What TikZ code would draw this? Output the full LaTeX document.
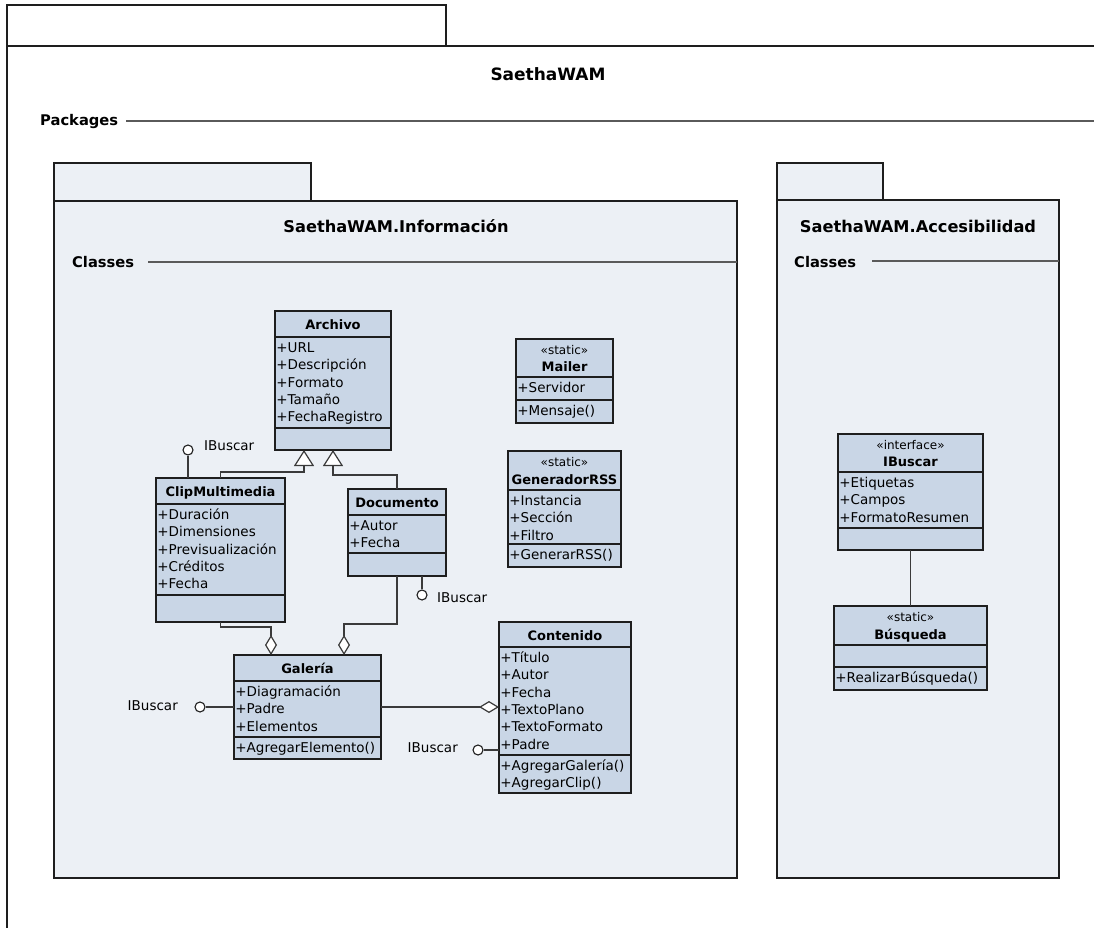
\documentclass[tikz,border=0pt]{standalone}
\usepackage{fontspec}
\setmainfont{DejaVu Sans}
\usetikzlibrary{arrows.meta,calc}

\definecolor{pkgfill}{HTML}{ECF0F5}
\definecolor{clsfill}{HTML}{C9D6E6}
\definecolor{edge}{HTML}{1E1E1E}
\definecolor{wire}{HTML}{3A3A3A}
\definecolor{rule}{HTML}{5A5A5A}

\tikzset{
  frame/.style={draw=edge, line width=1.4pt},
  pkgbox/.style={draw=edge, line width=1.4pt, fill=pkgfill},
  sepline/.style={draw=rule, line width=1.5pt},
  cls/.style={draw=edge, line width=1.3pt, fill=clsfill, inner sep=0pt, outer sep=0pt},
  divider/.style={draw=edge, line width=1.3pt},
  member/.style={font=\fontsize{13.5}{16}\selectfont, inner sep=0pt},
  clsname/.style={font=\bfseries\fontsize{13}{15}\selectfont, inner sep=0pt, anchor=base},
  stereo/.style={font=\fontsize{12}{14}\selectfont, inner sep=0pt, anchor=base},
  pkgtitle/.style={font=\bfseries\fontsize{16.2}{19}\selectfont, inner sep=0pt, anchor=base},
  maintitle/.style={font=\bfseries\fontsize{17}{20}\selectfont, inner sep=0pt, anchor=base},
  sectlabel/.style={font=\bfseries\fontsize{14.7}{17}\selectfont, inner sep=0pt, anchor=base west},
  conn/.style={draw=wire, line width=1.2pt},
  gen/.style={conn, -{Triangle[length=16pt, width=20pt, fill=white]}},
  agg/.style={conn, -{Diamond[length=20pt, width=12pt, fill=white]}},
  lolli/.style={circle, draw=edge, line width=1.1pt, fill=white, minimum size=10pt, inner sep=0pt},
  iface/.style={font=\fontsize{13.5}{16}\selectfont, inner sep=0pt},
}

% class box: name, x, y, width, height, header height, attribute compartment height
\newcommand\umlclass[7]{%
  \node[cls, minimum width=#4pt, minimum height=#5pt, anchor=north west] (#1) at (#2,#3) {};
  \coordinate (#1-h) at ($(#1.north west)+(0,#6)$);
  \coordinate (#1-a) at ($(#1.north west)+(0,#6+#7)$);
  \draw[divider] (#1-h) -- (#1-h -| #1.east);
  \draw[divider] (#1-a) -- (#1-a -| #1.east);
}
% compartment lines: node prefix, compartment top, list of members
\newcommand\umlmembers[3]{%
  \foreach \t [count=\i] in {#3} {%
    \node[member, anchor=base west] (#1\i) at ($(#2)+(1.2,{15.5+(\i-1)*17.3})$) {\t};
  }%
}

\begin{document}
\begin{tikzpicture}[x=1pt, y=-1pt]
\useasboundingbox (0,0) rectangle (1094,928);

% outer package
\draw[frame, fill=white] (7,5) rectangle (446,46);
\draw[frame] (7,928) -- (7,46) -- (1094,46);
\node[maintitle] (main-title) at (548,81) {SaethaWAM};
\node[sectlabel] (main-sect) at (40,126) {Packages};
\draw[sepline] (126,121) -- (1094,121);

% package SaethaWAM.Información
\draw[pkgbox] (54,163) rectangle (311,201);
\draw[pkgbox] (54,201) rectangle (737,878);
\node[pkgtitle] (info-title) at (396,232) {SaethaWAM.Información};
\node[sectlabel] (info-sect) at (72,267) {Classes};
\draw[sepline] (148,262) -- (737,262);

% package SaethaWAM.Accesibilidad
\draw[pkgbox] (777,163) rectangle (883,200);
\draw[pkgbox] (777,200) rectangle (1059,878);
\node[pkgtitle] (acc-title) at (918,232) {SaethaWAM.Accesibilidad};
\node[sectlabel] (acc-sect) at (794,267) {Classes};
\draw[sepline] (872,261) -- (1059,261);

% Archivo
\umlclass{archivo}{275}{311}{116}{139}{26}{91}
\node[clsname] (archivo-n) at ($(archivo.north)+(0,18)$) {Archivo};
\umlmembers{archivo-m}{archivo-h}{+URL,+Descripción,+Formato,+Tamaño,+FechaRegistro}

% ClipMultimedia
\umlclass{clip}{156}{478}{129}{144}{26}{91}
\node[clsname] (clip-n) at ($(clip.north)+(0,18)$) {ClipMultimedia};
\umlmembers{clip-m}{clip-h}{+Duración,+Dimensiones,+Previsualización,+Créditos,+Fecha}

% Documento
\umlclass{documento}{348}{489}{98}{87}{26}{38}
\node[clsname] (documento-n) at ($(documento.north)+(0,18)$) {Documento};
\umlmembers{documento-m}{documento-h}{+Autor,+Fecha}

% Galería
\umlclass{galeria}{234}{655}{147}{104}{26}{56}
\node[clsname] (galeria-n) at ($(galeria.north)+(0,18)$) {Galería};
\umlmembers{galeria-m}{galeria-h}{+Diagramación,+Padre,+Elementos}
\umlmembers{galeria-o}{galeria-a}{+AgregarElemento()}

% Contenido
\umlclass{contenido}{499}{622}{132}{171}{25}{108}
\node[clsname] (contenido-n) at ($(contenido.north)+(0,18)$) {Contenido};
\umlmembers{contenido-m}{contenido-h}{+Título,+Autor,+Fecha,+TextoPlano,+TextoFormato,+Padre}
\umlmembers{contenido-o}{contenido-a}{+AgregarGalería(),+AgregarClip()}

% Mailer
\umlclass{mailer}{516}{339}{97}{84}{38}{23}
\node[stereo] (mailer-s) at ($(mailer.north)+(0,15)$) {«static»};
\node[clsname] (mailer-n) at ($(mailer.north)+(0,32)$) {Mailer};
\umlmembers{mailer-m}{mailer-h}{+Servidor}
\umlmembers{mailer-o}{mailer-a}{+Mensaje()}

% GeneradorRSS
\umlclass{rss}{508}{451}{113}{116}{39}{54}
\node[stereo] (rss-s) at ($(rss.north)+(0,15)$) {«static»};
\node[clsname] (rss-n) at ($(rss.north)+(0,33)$) {GeneradorRSS};
\umlmembers{rss-m}{rss-h}{+Instancia,+Sección,+Filtro}
\umlmembers{rss-o}{rss-a}{+GenerarRSS()}

% IBuscar
\umlclass{ibuscar}{838}{434}{145}{116}{38}{56}
\node[stereo] (ibuscar-s) at ($(ibuscar.north)+(0,15)$) {«interface»};
\node[clsname] (ibuscar-n) at ($(ibuscar.north)+(0,32)$) {IBuscar};
\umlmembers{ibuscar-m}{ibuscar-h}{+Etiquetas,+Campos,+FormatoResumen}

% Búsqueda
\umlclass{busqueda}{834}{606}{153}{84}{39}{22}
\node[stereo] (busqueda-s) at ($(busqueda.north)+(0,15)$) {«static»};
\node[clsname] (busqueda-n) at ($(busqueda.north)+(0,33)$) {Búsqueda};
\umlmembers{busqueda-o}{busqueda-a}{+RealizarBúsqueda()}

% generalizations
\draw[gen] (clip.north) -- ++(0,-6) -| ([xshift=-29pt]archivo.south);
\draw[gen] (documento.north) -- ++(0,-14) -| (archivo.south);

% aggregations
\draw[agg] (clip.south) -- ++(0,5) -| ([xshift=-36.5pt]galeria.north);
\draw[agg] (documento.south) -- ++(0,48) -| ([xshift=36.5pt]galeria.north);
\draw[agg] (galeria.east) -- (galeria.east -| contenido.west);

% association
\draw[conn] (ibuscar.south) -- (busqueda.north);

% provided interfaces
\node[lolli] (lp-clip) at (188,450) {};
\draw[conn] (lp-clip) -- (lp-clip |- clip.north);
\node[iface, anchor=west] (lp-clip-l) at (204,446) {IBuscar};

\node[lolli] (lp-doc) at (422,595) {};
\draw[conn] (lp-doc) -- (lp-doc |- documento.south);
\node[iface, anchor=west] (lp-doc-l) at (437,598) {IBuscar};

\node[lolli] (lp-gal) at (200,707) {};
\draw[conn] (lp-gal) -- (lp-gal -| galeria.west);
\node[iface, anchor=east] (lp-gal-l) at (178,706) {IBuscar};

\node[lolli] (lp-con) at (478,750) {};
\draw[conn] (lp-con) -- (lp-con -| contenido.west);
\node[iface, anchor=east] (lp-con-l) at (458,748) {IBuscar};

\end{tikzpicture}
\end{document}
